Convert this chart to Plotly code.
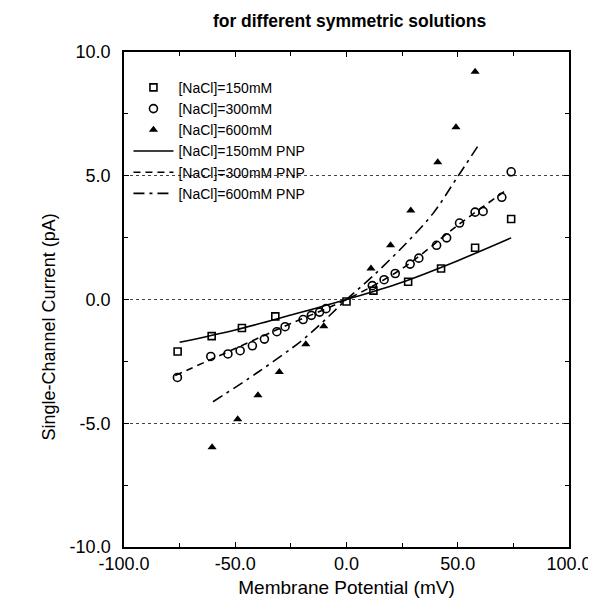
import plotly.graph_objects as go

# ---- data ----
sq150_x = [-75.9, -60.6, -47.0, -32.0, 0.0, 12.1, 27.7, 42.5, 57.8, 74.0]
sq150_y = [-2.10, -1.48, -1.15, -0.68, -0.08, 0.36, 0.72, 1.25, 2.09, 3.25]

ci300_x = [-76.0, -61.0, -53.3, -47.8, -42.3, -36.9, -31.3, -27.6, -19.5, -15.8,
           -12.1, -9.2, 11.6, 16.9, 21.9, 28.6, 32.5, 40.5, 45.0, 50.8, 57.8,
           61.4, 69.8, 74.0]
ci300_y = [-3.15, -2.30, -2.20, -2.07, -1.87, -1.60, -1.30, -1.10, -0.81, -0.64,
           -0.51, -0.37, 0.56, 0.80, 1.05, 1.43, 1.67, 2.19, 2.49, 3.09, 3.53,
           3.56, 4.13, 5.16]

tr600_x = [-60.4, -48.9, -39.8, -30.2, -18.3, -10.2, 11.0, 19.8, 28.9, 41.0, 49.2, 57.8]
tr600_y = [-5.97, -4.84, -3.87, -2.93, -1.81, -1.08, 1.25, 2.19, 3.60, 5.55, 6.96, 9.20]

pnp150_x = [-75, -50, -25, 0, 25, 50, 74]
pnp150_y = [-1.73, -1.23, -0.63, 0.0, 0.70, 1.57, 2.49]

pnp300_x = [-77, -50, -25, 0, 25, 50, 72]
pnp300_y = [-3.07, -1.98, -0.97, 0.0, 1.25, 3.00, 4.43]

pnp600_x = [-60, -40, -20, -10, 0, 12, 27, 39, 49, 59]
pnp600_y = [-4.13, -2.95, -1.65, -0.85, 0.0, 0.96, 2.29, 3.49, 4.83, 6.19]

x_ticks = [-100, -50, 0, 50, 100]
x_ticklabels = ["-100.0", "-50.0", "0.0", "50.0", "100.0"]
y_ticks = [-10, -5, 0, 5, 10]
y_ticklabels = ["-10.0", "-5.0", "0.0", "5.0", "10.0"]

FONT = "Liberation Sans, Arial, sans-serif"

fig = go.Figure()
fig.add_trace(go.Scatter(x=sq150_x, y=sq150_y, mode="markers", name="[NaCl]=150mM",
                         marker=dict(symbol="square-open", size=7, color="black",
                                     line=dict(width=1.6, color="black"))))
fig.add_trace(go.Scatter(x=ci300_x, y=ci300_y, mode="markers", name="[NaCl]=300mM",
                         marker=dict(symbol="circle-open", size=8, color="black",
                                     line=dict(width=1.6, color="black"))))
fig.add_trace(go.Scatter(x=tr600_x, y=tr600_y, mode="markers", name="[NaCl]=600mM",
                         marker=dict(symbol="triangle-up", size=8, color="black")))
fig.add_trace(go.Scatter(x=pnp150_x, y=pnp150_y, mode="lines", name="[NaCl]=150mM PNP",
                         line=dict(color="black", width=1.6, shape="spline")))
fig.add_trace(go.Scatter(x=pnp300_x, y=pnp300_y, mode="lines", name="[NaCl]=300mM PNP",
                         line=dict(color="black", width=1.6, dash="7px,5px", shape="spline")))
fig.add_trace(go.Scatter(x=pnp600_x, y=pnp600_y, mode="lines", name="[NaCl]=600mM PNP",
                         line=dict(color="black", width=1.6, dash="11px,5px,3px,5px",
                                   shape="spline")))

axis_common = dict(showline=True, linecolor="black", linewidth=1.5, mirror="allticks",
                   ticks="inside", ticklen=5, tickcolor="black", tickwidth=1,
                   zeroline=False, tickfont=dict(family=FONT, size=18, color="black"))

fig.update_xaxes(range=[-100, 100], tickvals=x_ticks, ticktext=x_ticklabels,
                 showgrid=False,
                 minor=dict(dtick=25, ticks="inside", ticklen=4, tickcolor="black"),
                 title=dict(text="Membrane Potential (mV)",
                            font=dict(family=FONT, size=19, color="black"), standoff=7),
                 **axis_common)
fig.update_yaxes(range=[-10, 10], tickvals=y_ticks, ticktext=y_ticklabels,
                 showgrid=True, gridcolor="#444", gridwidth=1, griddash="dot",
                 minor=dict(dtick=2.5, ticks="inside", ticklen=4, tickcolor="black",
                            showgrid=False),
                 ticklabelstandoff=8,
                 **axis_common)

fig.update_layout(
    width=596, height=599,
    margin=dict(l=116, r=27, t=44, b=55),
    paper_bgcolor="white", plot_bgcolor="white",
    title=dict(text="<b>for different symmetric solutions</b>", x=0.573, xanchor="center",
               y=0.978, yanchor="middle", yref="container",
               font=dict(family=FONT, size=17.5, color="black")),
    legend=dict(x=0.01, y=0.96, xanchor="left", yanchor="top",
                bgcolor="rgba(0,0,0,0)", font=dict(family=FONT, size=14, color="black"),
                tracegroupgap=0, itemwidth=40),
    annotations=[dict(text="Single-Channel Current (pA)", textangle=-90,
                      xref="paper", yref="paper", x=-0.168, y=0.444,
                      xanchor="center", yanchor="middle", showarrow=False,
                      font=dict(family=FONT, size=18, color="black"))],
    showlegend=True,
)

fig.write_html("out.html")
